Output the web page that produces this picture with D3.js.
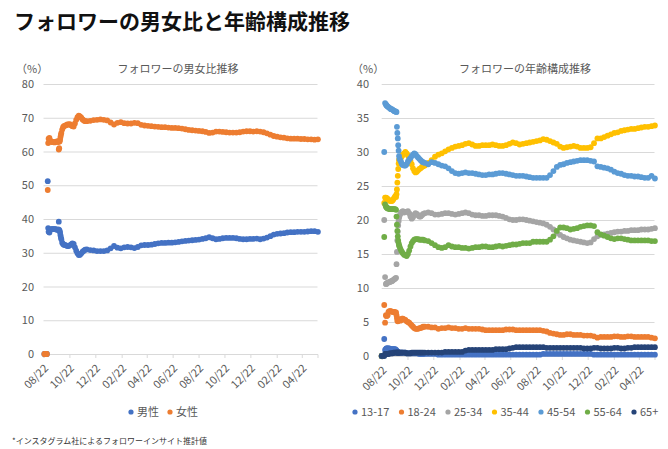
<!DOCTYPE html>
<html><head><meta charset="utf-8">
<script src="https://cdn.jsdelivr.net/npm/d3@7"></script>
<style>
body{margin:0;background:#fff;}
svg{display:block;font-family:"Noto Sans CJK JP","Noto Sans",sans-serif;}
</style>
</head><body>
<svg id="c" width="668" height="449"></svg>
<script>
const startDate = "2021-08-22";
const tickMonths = [0,2,4,6,8,10,12,14,16,18,20];
const tickLabels = ["08/22","10/22","12/22","02/22","04/22","06/22","08/22","10/22","12/22","02/22","04/22"];
const days = [
 0,2,4,6,8,10,11,12,14,16,18,20,22,24,26,28,30,32,34,
 35,36,37,38,39,40,41,42,44,46,48,50,
 53,56,59,62,65,68,71,74,77,80,83,86,89,92,95,98,102,
 110,118,126,134,142,150,158,166,174,182,190,198,206,214,222,230,238,
 246,254,262,270,278,286,294,302,310,318,326,334,342,350,358,366,374,
 382,390,398,406,414,422,430,438,446,454,462,470,478,486,494,502,510,
 518,526,534,542,550,558,566,574,582,590,598,606,614,622,630,638,646];

const genderNames = ["男性","女性"];
const genderColors = ["#4472C4","#ED7D31"];
const male = [
 null,0,0,0,0,51.2,37.3,36.2,36.0,36.8,37.0,37.0,37.0,37.0,37.0,37.0,36.9,36.8,36.8,
 36.9,39.2,36.8,36.5,36.0,35.2,34.5,34.0,33.0,32.6,32.4,32.3,
 32.2,32.0,32.0,32.2,32.5,32.8,32.6,31.6,30.6,29.8,29.3,29.4,29.8,30.3,30.6,30.9,31.0,
 30.8,30.7,30.5,30.5,30.5,30.7,31.3,32.0,31.5,31.3,31.6,31.7,31.6,31.4,31.7,32.2,32.3,
 32.3,32.4,32.6,32.8,32.9,32.9,33.0,33.0,33.1,33.2,33.4,33.5,33.6,33.7,33.8,33.9,34.1,
 34.3,34.6,34.3,34.0,34.1,34.3,34.4,34.4,34.4,34.3,34.1,34.0,34.0,34.1,34.1,34.2,34.0,
 34.2,34.5,34.9,35.4,35.6,35.7,35.8,36.0,36.1,36.1,36.2,36.2,36.2,36.3,36.4,36.4,36.2];
const female = [
 null,0,0,0,0,48.6,62.5,63.8,64.0,63.2,63.0,62.8,62.8,62.8,62.7,62.8,62.9,63.0,63.0,
 62.8,60.6,61.0,63.0,63.5,64.3,65.0,65.5,66.5,67.2,67.5,67.6,
 67.8,68.0,68.0,68.1,67.8,67.5,67.4,68.3,69.4,70.2,70.6,70.4,70.0,69.5,69.2,69.0,69.0,
 69.1,69.3,69.4,69.5,69.4,69.2,68.6,68.0,68.5,68.7,68.4,68.3,68.3,68.5,68.4,67.9,67.7,
 67.6,67.5,67.4,67.3,67.2,67.2,67.1,67.0,67.0,66.9,66.8,66.6,66.4,66.3,66.2,66.1,66.0,
 65.8,65.5,65.6,65.9,65.9,65.8,65.7,65.6,65.6,65.6,65.7,65.9,66.0,66.0,65.9,66.0,65.9,
 65.7,65.4,65.0,64.6,64.4,64.2,64.1,63.9,63.8,63.8,63.8,63.7,63.7,63.6,63.6,63.5,63.6];

const ageNames = ["13-17","18-24","25-34","35-44","45-54","55-64","65+"];
const ageColors = ["#4472C4","#ED7D31","#A5A5A5","#FFC000","#5B9BD5","#70AD47","#264478"];
const age1317 = [
 0,null,null,2.5,0.9,1.0,1.1,1.1,1.1,1.1,1.1,1.0,1.0,1.0,1.0,1.0,1.0,1.0,0.9,
 0.8,0.7,0.6,0.6,0.5,0.5,0.5,0.5,0.5,0.5,0.5,0.5,
 0.5,0.5,0.4,0.4,0.4,0.4,0.4,0.4,0.4,0.4,0.4,0.4,0.3,0.3,0.3,0.3,0.3,
 0.3,0.3,0.3,0.2,0.2,0.2,0.2,0.2,0.2,0.2,0.2,0.2,0.2,0.2,0.2,0.2,0.2,
 0.2,0.2,0.2,0.2,0.2,0.2,0.2,0.2,0.2,0.2,0.2,0.2,0.2,0.2,0.2,0.2,0.2,
 0.3,0.3,0.3,0.3,0.3,0.3,0.3,0.3,0.3,0.3,0.3,0.3,0.3,0.3,0.3,0.2,0.2,
 0.2,0.2,0.2,0.2,0.2,0.2,0.2,0.2,0.2,0.2,0.2,0.2,0.2,0.2,0.2,0.2,0.2];
const age1824 = [
 0,null,null,7.5,4.9,6.0,5.9,5.9,6.0,6.5,6.6,6.6,6.6,6.5,6.5,6.5,6.5,6.4,6.4,
 6.0,5.6,5.2,5.1,5.2,5.4,5.4,5.3,5.2,5.3,5.5,5.5,
 5.4,5.3,5.1,5.0,4.9,4.7,4.5,4.3,4.1,4.0,4.0,4.0,4.1,4.1,4.2,4.3,4.3,
 4.3,4.2,4.2,4.0,4.1,4.1,4.2,4.1,4.1,4.0,4.0,4.1,4.0,4.0,4.0,4.0,3.9,
 3.8,3.8,3.8,3.8,3.8,3.8,3.9,3.9,3.9,3.8,3.8,3.8,3.8,3.8,3.8,3.8,3.8,
 3.7,3.6,3.4,3.3,3.2,3.1,3.1,3.2,3.2,3.1,3.1,3.1,3.0,3.0,3.0,2.9,2.7,
 2.8,2.8,2.8,2.8,2.9,2.9,2.8,2.8,2.9,2.9,2.8,2.8,2.8,2.8,2.8,2.7,2.6];
const age2534 = [
 0,null,null,20.0,11.6,10.6,10.6,10.7,10.8,10.8,10.9,10.9,11.0,11.0,11.1,11.2,11.3,11.4,11.5,
 13.5,15.3,17.0,18.3,19.2,19.8,20.3,20.6,20.9,21.1,21.2,21.3,
 21.1,21.2,21.2,21.3,21.0,20.5,20.2,20.4,20.8,21.0,20.9,20.7,20.5,20.5,20.7,20.9,21.0,
 21.1,21.0,20.8,20.8,20.9,21.0,21.0,20.9,20.8,20.9,21.0,21.1,21.0,20.8,20.7,20.7,20.6,
 20.6,20.7,20.7,20.7,20.6,20.5,20.3,20.1,20.0,20.0,20.1,20.1,20.0,19.9,19.8,19.7,19.6,
 19.5,19.3,19.0,18.6,18.1,17.8,17.5,17.3,17.1,17.0,16.9,16.8,16.7,16.6,16.7,17.2,17.6,
 17.8,17.9,18.0,18.1,18.2,18.3,18.3,18.4,18.4,18.5,18.5,18.5,18.6,18.6,18.6,18.7,18.8];
const age3544 = [
 0,null,null,22.5,23.3,23.3,23.2,23.2,23.1,23.0,22.9,22.8,22.8,22.8,22.9,23.1,23.3,23.5,23.4,
 23.8,24.5,25.5,26.5,27.5,28.3,28.8,29.0,29.0,29.2,29.4,29.6,
 29.8,30.0,29.8,29.5,29.1,28.7,28.2,27.6,27.2,27.0,27.1,27.3,27.5,27.6,27.8,27.9,28.0,
 28.4,28.8,29.3,29.6,29.8,30.1,30.4,30.6,30.8,30.9,31.0,31.2,31.3,31.1,30.9,30.9,31.0,
 31.0,31.0,31.1,31.0,30.9,30.9,31.0,31.2,31.4,31.3,31.1,31.2,31.3,31.4,31.5,31.6,31.7,
 31.9,31.8,31.6,31.4,31.2,30.8,30.6,30.7,30.8,30.9,30.8,30.6,30.6,30.6,30.7,31.3,32.0,
 32.0,32.2,32.4,32.6,32.8,32.9,33.1,33.2,33.3,33.4,33.4,33.5,33.6,33.7,33.7,33.8,33.9];
const age4554 = [
 0,null,null,30.0,37.2,37.0,36.9,36.8,36.7,36.6,36.5,36.4,36.3,36.3,36.2,36.1,36.0,36.0,35.9,
 35.9,33.7,32.8,32.0,31.0,30.2,29.4,29.0,28.8,28.5,28.2,28.1,
 28.0,28.0,28.2,28.6,28.9,29.1,29.4,29.6,29.8,29.7,29.4,29.2,29.0,28.8,28.6,28.5,28.4,
 28.2,28.5,28.4,28.2,28.0,27.9,27.6,27.2,26.9,26.8,26.9,27.0,26.9,26.9,26.8,26.7,26.6,
 26.6,26.7,26.7,26.8,26.9,26.9,26.8,26.7,26.6,26.5,26.5,26.5,26.4,26.3,26.2,26.2,26.2,
 26.2,26.2,26.6,27.2,27.8,28.1,28.2,28.4,28.5,28.6,28.7,28.8,28.8,28.8,28.7,28.6,27.9,
 27.8,27.7,27.6,27.4,27.1,26.9,26.8,26.6,26.5,26.5,26.4,26.4,26.3,26.2,26.2,26.5,26.1];
const age5564 = [
 0,null,null,17.5,22.3,22.0,21.9,21.8,21.7,21.7,21.6,21.6,21.6,21.6,21.6,21.6,21.6,21.6,21.5,
 20.5,19.3,18.4,17.6,17.0,16.6,16.3,16.1,15.8,15.5,15.3,15.1,
 14.9,14.8,14.7,15.0,15.5,16.1,16.6,16.9,17.1,17.2,17.2,17.2,17.1,17.1,17.1,17.1,17.0,
 16.9,16.6,16.3,16.0,15.9,16.0,16.3,16.1,16.0,16.0,15.9,15.9,15.8,15.9,16.0,16.0,16.1,
 16.1,16.0,16.0,16.1,16.2,16.1,16.2,16.3,16.4,16.4,16.5,16.6,16.6,16.6,16.8,16.8,16.8,
 16.8,16.8,17.1,17.6,18.4,18.9,18.9,18.8,18.6,18.7,18.8,19.0,19.1,19.2,19.2,19.1,18.2,
 17.9,17.7,17.5,17.3,17.2,17.3,17.3,17.2,17.1,17.0,17.0,17.0,17.0,17.0,17.0,16.9,16.9];
const age65 = [
 0,null,null,0,0.3,0.3,0.3,0.3,0.3,0.3,0.4,0.4,0.4,0.4,0.4,0.5,0.5,0.5,0.5,
 0.5,0.5,0.5,0.5,0.5,0.5,0.5,0.5,0.5,0.5,0.5,0.5,
 0.5,0.5,0.4,0.4,0.4,0.4,0.5,0.5,0.5,0.5,0.5,0.5,0.5,0.5,0.5,0.5,0.5,
 0.5,0.5,0.5,0.5,0.5,0.6,0.6,0.6,0.6,0.6,0.6,0.8,0.9,0.9,0.9,0.9,0.9,
 0.9,0.9,0.9,1.0,1.0,1.0,1.0,1.1,1.2,1.3,1.3,1.3,1.3,1.3,1.3,1.3,1.3,
 1.3,1.2,1.2,1.2,1.2,1.2,1.2,1.2,1.2,1.2,1.2,1.2,1.1,1.1,1.1,1.2,1.2,
 1.1,1.1,1.1,1.1,1.2,1.2,1.1,1.1,1.2,1.2,1.3,1.3,1.3,1.3,1.3,1.3,1.3];

const genderSeries = [male, female];
const ageSeries = [age1317, age1824, age2534, age3544, age4554, age5564, age65];

const FONT = '"Noto Sans CJK JP","Noto Sans",sans-serif';
const svg = d3.select("#c");
const t0 = d3.timeParse("%Y-%m-%d")(startDate);
const dateOf = d => d3.timeDay.offset(t0, d);
const tickDates = tickMonths.map(m => d3.timeMonth.offset(t0, m));

svg.append("text").attr("x", 14).attr("y", 29)
  .style("font-size", "21px").style("font-weight", "bold").attr("fill", "#111")
  .text("フォロワーの男女比と年齢構成推移");

function panel(cfg) {
  const x = d3.scaleTime().domain([t0, dateOf(645)]).range(cfg.xr);
  const y = d3.scaleLinear().domain([0, cfg.ymax]).range(cfg.yr);
  const g = svg.append("g");
  g.append("g").attr("transform", `translate(${cfg.xr[0]},0)`)
    .call(d3.axisLeft(y).tickValues(d3.range(0, cfg.ymax + 0.001, cfg.ystep)).tickSize(-(cfg.xr[1] - cfg.xr[0])).tickFormat(""))
    .call(s => s.select(".domain").remove())
    .call(s => s.selectAll("line").attr("stroke", "#d9d9d9"));
  g.append("g").attr("transform", `translate(${cfg.ylabX},0)`)
    .call(d3.axisLeft(y).tickValues(d3.range(0, cfg.ymax + 0.001, cfg.ystep)).tickSize(0).tickPadding(0))
    .call(s => s.select(".domain").remove())
    .call(s => s.selectAll("text").attr("fill", "#595959").style("font-size", "11px").style("font-family", FONT));
  const xa = g.append("g").attr("transform", `translate(0,${cfg.yr[0]})`)
    .call(d3.axisBottom(x).tickValues(tickDates).tickSize(4).tickFormat((d, i) => tickLabels[i]));
  xa.select(".domain").attr("stroke", "#d9d9d9");
  xa.selectAll(".tick line").attr("stroke", "#d9d9d9");
  xa.selectAll(".tick text").attr("fill", "#595959").style("font-size", "11px").style("font-family", FONT)
    .attr("x", null).attr("y", null).attr("dy", null)
    .attr("text-anchor", "end").attr("transform", "translate(5,15) rotate(-45)");
  svg.append("text").attr("x", cfg.pctX).attr("y", 73).attr("fill", "#595959").style("font-size", "11px").text("（%）");
  svg.append("text").attr("x", cfg.titleX).attr("y", 73).attr("text-anchor", "middle").attr("fill", "#595959")
    .style("font-size", "11px").text(cfg.title);
  cfg.series.forEach((vals, si) => {
    const pts = days.map((d, i) => ({d, v: vals[i]})).filter(p => p.v !== null);
    g.append("g").selectAll("circle").data(pts).join("circle")
      .attr("cx", p => x(dateOf(p.d))).attr("cy", p => y(p.v)).attr("r", 2.9)
      .attr("fill", cfg.colors[si]);
  });
  const lg = svg.append("g");
  cfg.names.forEach((n, i) => {
    const lx = cfg.legX + i * cfg.legStep;
    lg.append("circle").attr("cx", lx).attr("cy", 412).attr("r", 2.6).attr("fill", cfg.colors[i]);
    lg.append("text").attr("x", lx + 6).attr("y", 416).attr("fill", "#595959").style("font-size", "11px").text(n);
  });
}

panel({xr: [43.5, 317.5], yr: [354, 84], ymax: 80, ystep: 10, ylabX: 34, pctX: 16, titleX: 178,
  title: "フォロワーの男女比推移", series: genderSeries, colors: genderColors, names: genderNames,
  legX: 131, legStep: 39});
panel({xr: [381.7, 654.5], yr: [356, 84], ymax: 40, ystep: 5, ylabX: 369, pctX: 352, titleX: 525,
  title: "フォロワーの年齢構成推移", series: ageSeries, colors: ageColors, names: ageNames,
  legX: 355, legStep: 46.5});

svg.append("text").attr("x", 12).attr("y", 444).attr("fill", "#333").style("font-size", "8px")
  .text("*インスタグラム社によるフォロワーインサイト推計値");
</script>
</body></html>
